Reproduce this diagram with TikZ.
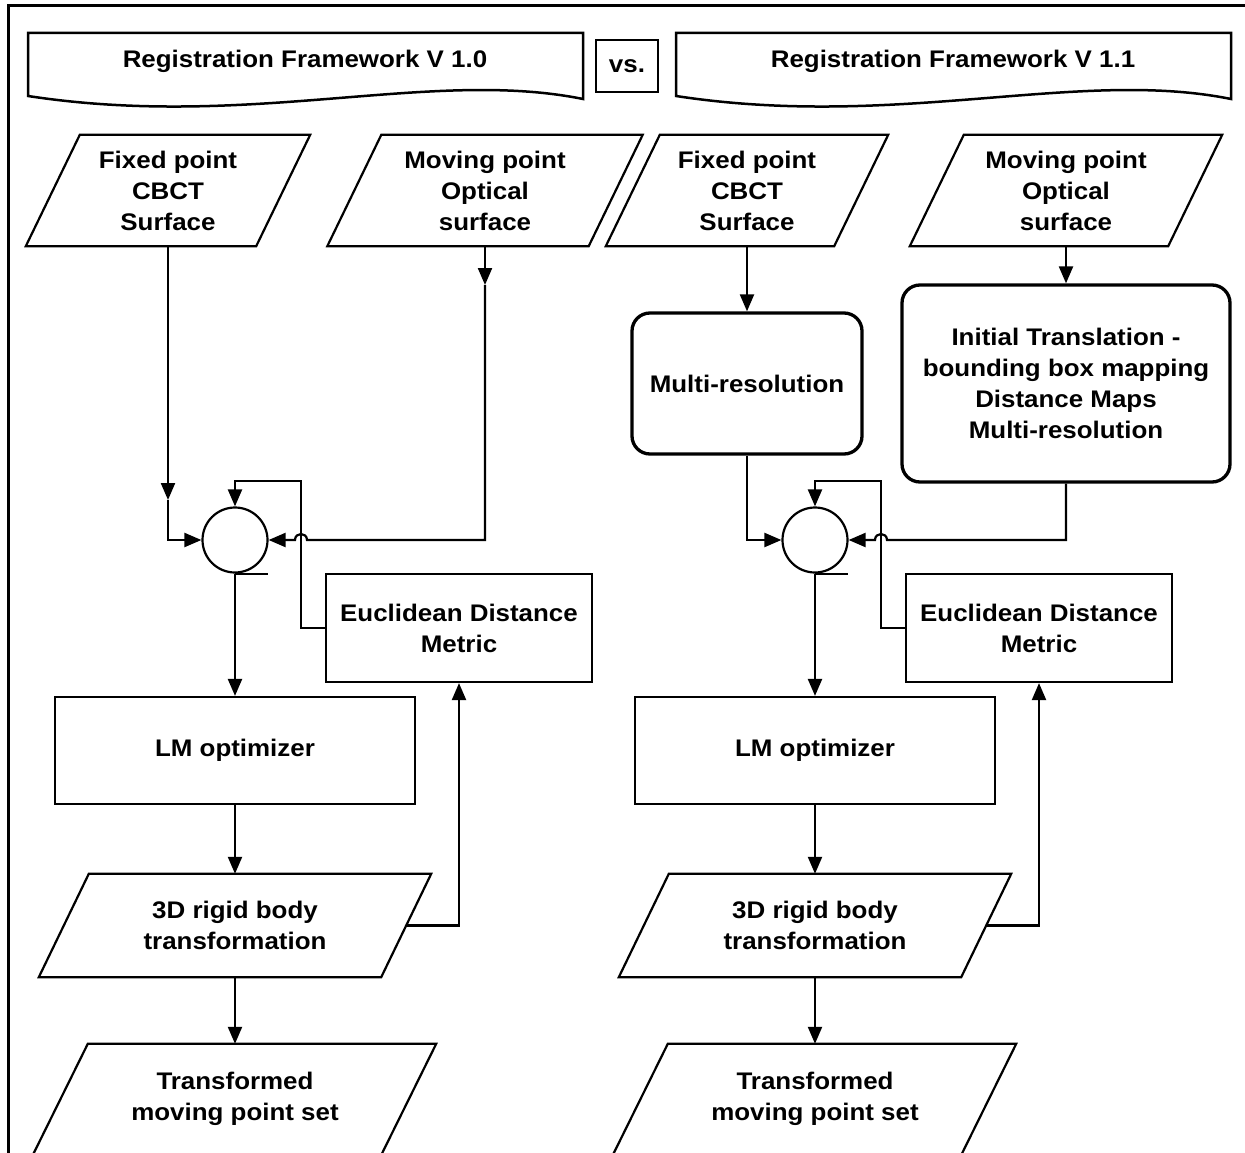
\documentclass[tikz,border=0pt]{standalone}
\usepackage{fontspec}
\setmainfont{Liberation Sans}[FakeStretch=1.08]
\usetikzlibrary{arrows.meta,calc}
\newcommand\myparal[7]{%
  \node[minimum width=#4pt, minimum height=#5pt] (#1) at (#2,#3) {#7};
  \draw[ln] ($(#1.north west)+(#6/2,0)$) -- ($(#1.north east)+(#6/2,0)$) --
    ($(#1.south east)-(#6/2,0)$) -- ($(#1.south west)-(#6/2,0)$) -- cycle;}
\newcommand\myopenparal[7]{%
  \node[minimum width=#4pt, minimum height=#5pt] (#1) at (#2,#3) {#7};
  \draw[ln] ($(#1.south west)+(-#6/2-6,12)$) -- ($(#1.north west)+(#6/2,0)$) --
    ($(#1.north east)+(#6/2,0)$) -- ($(#1.south east)+(-#6/2-6,12)$);}
\newcommand\mybanner[1]{%
  \draw[line width=2.5pt] (#1,96) -- (#1,33) -- ($(#1,33)+(555,0)$) -- ($(#1,99)+(555,0)$)
    .. controls ($(#1,68)+(402,0)$) and ($(#1,130)+(222,0)$) .. (#1,96) -- cycle;}
\begin{document}
\begin{tikzpicture}[x=1pt,y=-1pt,line join=miter,
  every node/.style={font=\bfseries\fontsize{24}{31}\selectfont, align=center, inner sep=0pt},
  ln/.style={line width=2.2pt},
  arr/.style={ln, -{Triangle[length=17pt,width=14pt]}},
  plainbox/.style={draw, ln},
  roundbox/.style={draw, line width=3.3pt, rounded corners=18pt},
  sumnode/.style={draw, ln, circle, minimum size=65pt}]
\useasboundingbox (0,0) rectangle (1245,1153);
% frame
\draw[line width=3pt] (8,1170) -- (8,6) -- (1260,6);
% banners
\mybanner{28}
\mybanner{676}
\node (b1) at (305,61) {Registration Framework V 1.0};
\node (b2) at (953,61) {Registration Framework V 1.1};
\node[draw, line width=2.5pt, minimum width=62pt, minimum height=52pt] (vs) at (627,66) {vs.};
% inputs
\myparal{p1}{168}{190.5}{230}{111}{54}{Fixed point\\CBCT\\Surface}
\myparal{p2}{485}{190.5}{261}{111}{54}{Moving point\\Optical\\surface}
\myparal{p3}{747}{190.5}{228}{111}{54}{Fixed point\\CBCT\\Surface}
\myparal{p4}{1066}{190.5}{258}{111}{54}{Moving point\\Optical\\surface}
% V1.1 preprocessing
\node[roundbox, minimum width=230pt, minimum height=141pt] (mr) at (747,383.5) {Multi-resolution};
\node[roundbox, minimum width=328pt, minimum height=197pt] (it) at (1066,383.5)
  {Initial Translation -\\bounding box mapping\\Distance Maps\\Multi-resolution};
% summing junctions
\node[sumnode] (c1) at (235,540) {};
\node[sumnode] (c2) at (815,540) {};
\draw[ln] (c1.south) -- ++(33,0);
\draw[ln] (c2.south) -- ++(33,0);
% metric boxes
\node[plainbox, minimum width=266pt, minimum height=108pt] (e1) at (459,628) {Euclidean Distance\\Metric};
\node[plainbox, minimum width=266pt, minimum height=108pt] (e2) at (1039,628) {Euclidean Distance\\Metric};
% optimizers
\node[plainbox, minimum width=360pt, minimum height=107pt] (lm1) at (235,750.5) {LM optimizer};
\node[plainbox, minimum width=360pt, minimum height=107pt] (lm2) at (815,750.5) {LM optimizer};
% transforms
\myparal{td1}{235}{925.5}{342}{103}{50}{3D rigid body\\transformation}
\myparal{td2}{815}{925.5}{342}{103}{50}{3D rigid body\\transformation}
\myopenparal{tr1}{235}{1098.5}{348}{109}{54}{Transformed\\moving point set}
\myopenparal{tr2}{815}{1098.5}{348}{109}{54}{Transformed\\moving point set}
% helper coordinates
\coordinate (m1) at (168,500);
\coordinate (m2) at (485,285);
\coordinate (j1) at (301,540);
\coordinate (j2) at (881,540);
\coordinate (f1) at (301,481);
\coordinate (f2) at (881,481);
% left connectors
\draw[arr] (p1.south) -- (m1);
\draw[arr] (m1) |- (c1.west);
\draw[arr] (p2.south) -- (m2);
\draw[arr] (m2) |- ($(j1)+(6,0)$) .. controls ($(j1)+(6,-8)$) and ($(j1)+(-6,-8)$) .. ($(j1)+(-6,0)$) -- (c1.east);
\draw[arr] (e1.west) -| (f1) -| (c1.north);
\draw[arr] (c1.south) -- (lm1.north);
\draw[arr] (lm1.south) -- (td1.north);
\draw[arr] (td1.east) -| (e1.south);
\draw[arr] (td1.south) -- (tr1.north);
% right connectors
\draw[arr] (p3.south) -- (mr.north);
\draw[arr] (mr.south) |- (c2.west);
\draw[arr] (p4.south) -- (it.north);
\draw[arr] (it.south) |- ($(j2)+(6,0)$) .. controls ($(j2)+(6,-8)$) and ($(j2)+(-6,-8)$) .. ($(j2)+(-6,0)$) -- (c2.east);
\draw[arr] (e2.west) -| (f2) -| (c2.north);
\draw[arr] (c2.south) -- (lm2.north);
\draw[arr] (lm2.south) -- (td2.north);
\draw[arr] (td2.east) -| (e2.south);
\draw[arr] (td2.south) -- (tr2.north);
\end{tikzpicture}
\end{document}
